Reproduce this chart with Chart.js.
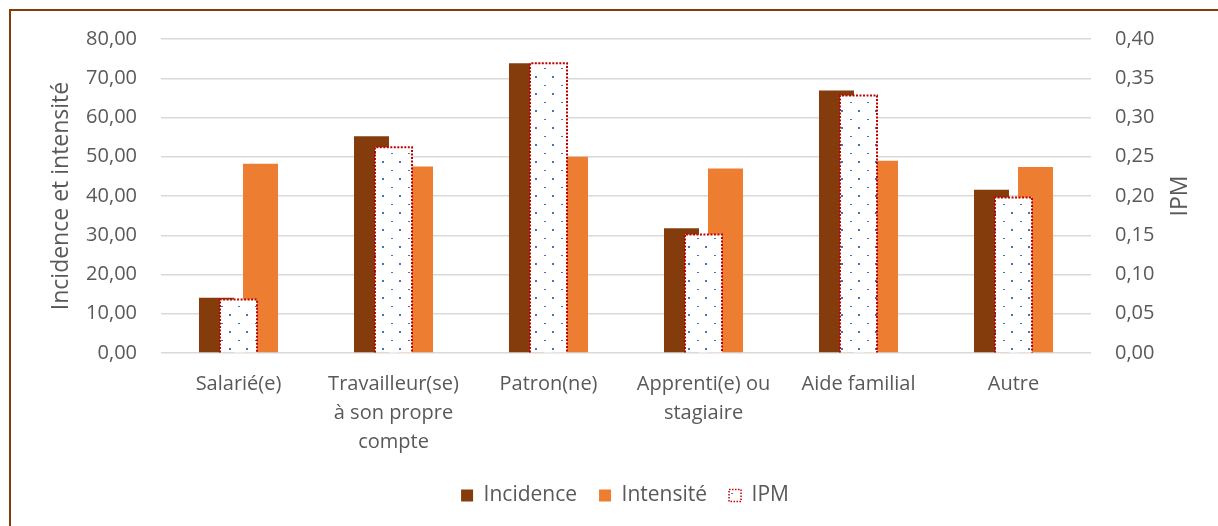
<!DOCTYPE html>
<html>
<head>
<meta charset="utf-8">
<script src="https://cdn.jsdelivr.net/npm/chart.js@4"></script>
<style>
    html, body { margin: 0; padding: 0; background: #fff; overflow: hidden; }
    #cadre {
        position: absolute; left: 9px; top: 9px;
        width: 1300px; height: 600px;
        border: 2px solid #843c0c;
    }
    #wrap { position: absolute; left: 0; top: 0; width: 1218px; height: 526px; }
</style>
</head>
<body>
<div id="cadre"></div>
<div id="wrap"><canvas id="chartStatut" width="1218" height="526"></canvas></div>
<script>
// Statut dans l'emploi
const categories = [
    'Salarié(e)',
    ['Travailleur(se)', 'à son propre', 'compte'],
    'Patron(ne)',
    ['Apprenti(e) ou', 'stagiaire'],
    'Aide familial',
    'Autre'
];
const incidence = [14.1, 55.2, 73.8, 31.8, 66.9, 41.6];
const intensite = [48.2, 47.5, 50.0, 47.0, 49.0, 47.4];
const ipm       = [0.068, 0.262, 0.369, 0.151, 0.328, 0.198];

const gris = '#595959';

// motif pointillé bleu pour IPM
function motifIPM() {
    const c = document.createElement('canvas');
    c.width = 17; c.height = 17;
    const g = c.getContext('2d');
    g.fillStyle = '#fff';
    g.fillRect(0, 0, 17, 17);
    g.fillStyle = '#4472c4';
    g.fillRect(0, 0, 2, 1);
    g.fillRect(8, 8, 2, 2);
    return g.createPattern(c, 'repeat');
}

const virgule = v => Number(v).toFixed(2).replace('.', ',');

// bordure rouge en pointillés + titre IPM
const bordureIPM = {
    id: 'bordureIPM',
    afterDatasetsDraw(chart) {
        const ctx = chart.ctx;
        const meta = chart.getDatasetMeta(2);
        ctx.save();
        ctx.strokeStyle = '#c00000';
        ctx.lineWidth = 2;
        ctx.setLineDash([2, 1.5]);
        meta.data.forEach(bar => {
            const l = bar.x - bar.width / 2, r = bar.x + bar.width / 2;
            ctx.beginPath();
            ctx.moveTo(l, bar.base);
            ctx.lineTo(l, bar.y);
            ctx.lineTo(r, bar.y);
            ctx.lineTo(r, bar.base);
            ctx.stroke();
        });
        ctx.restore();
    },
    afterDraw(chart) {
        const ctx = chart.ctx;
        const y2 = chart.scales.y2;
        ctx.save();
        ctx.translate(y2.right - 38, (chart.chartArea.top + chart.chartArea.bottom) / 2);
        ctx.rotate(-Math.PI / 2);
        ctx.font = '23px "Open Sans"';
        ctx.fillStyle = gris;
        ctx.textAlign = 'center';
        ctx.textBaseline = 'middle';
        ctx.fillText('IPM', 0, 0);
        ctx.restore();
    }
};

Chart.defaults.font.family = '"Open Sans", sans-serif';
Chart.defaults.font.size = 20;
Chart.defaults.color = gris;

new Chart(document.getElementById('chartStatut'), {
    type: 'bar',
    data: {
        labels: categories,
        datasets: [{
            label: 'Incidence',
            data: incidence,
            backgroundColor: '#843c0c',
            yAxisID: 'y',
            order: 1,
            categoryPercentage: 0.568,
            barPercentage: 0.795
        }, {
            label: 'Intensité',
            data: intensite,
            backgroundColor: '#ed7d31',
            yAxisID: 'y',
            order: 1,
            categoryPercentage: 0.568,
            barPercentage: 0.795
        }, {
            label: 'IPM',
            data: ipm,
            backgroundColor: motifIPM(),
            borderWidth: 0,
            yAxisID: 'y2',
            order: 0,
            grouped: false,
            categoryPercentage: 1,
            barPercentage: 0.239
        }]
    },
    options: {
        responsive: false,
        animation: false,
        layout: { padding: { top: 39, bottom: 10, left: 32, right: 0 } },
        plugins: {
            tooltip: { enabled: false },
            legend: {
                position: 'bottom',
                labels: {
                    boxWidth: 12,
                    boxHeight: 12,
                    padding: 22,
                    color: gris,
                    font: { size: 21 },
                    sort: (a, b) => a.datasetIndex - b.datasetIndex,
                    generateLabels(chart) {
                        const items = Chart.defaults.plugins.legend.labels.generateLabels(chart);
                        items.forEach(it => {
                            if (it.datasetIndex === 2) {
                                it.strokeStyle = '#c00000';
                                it.lineWidth = 1.5;
                                it.lineDash = [1.5, 1.5];
                            } else {
                                it.lineWidth = 0;
                            }
                        });
                        return items;
                    }
                }
            }
        },
        scales: {
            x: {
                type: 'category',
                offset: true,
                grid: { display: false, drawTicks: false },
                border: { display: false },
                ticks: { padding: 17, maxRotation: 0, autoSkip: false, font: { lineHeight: 1.45 } },
                afterFit(axis) { axis.height = 110; }
            },
            y: {
                position: 'left',
                min: 0,
                max: 80,
                ticks: { stepSize: 10, padding: 24, callback: v => virgule(v) },
                grid: { color: '#d9d9d9', lineWidth: 1.5, drawTicks: false },
                border: { display: false },
                title: {
                    display: true,
                    text: 'Incidence et intensité',
                    font: { size: 23 },
                    padding: { top: 16, bottom: 0 }
                },
                afterFit(axis) { axis.width = 129; }
            },
            y2: {
                position: 'right',
                min: 0,
                max: 0.4,
                ticks: { stepSize: 0.05, padding: 24, callback: v => virgule(v) },
                grid: { drawOnChartArea: false, drawTicks: false },
                border: { display: false },
                afterFit(axis) { axis.width = 127; }
            }
        }
    },
    plugins: [bordureIPM]
});
</script>
</body>
</html>
